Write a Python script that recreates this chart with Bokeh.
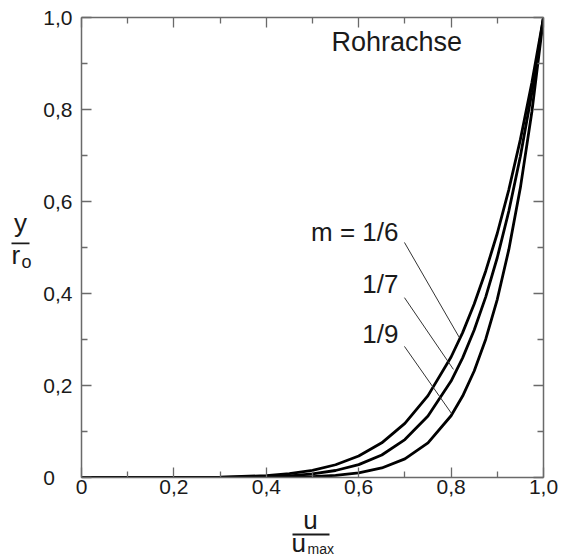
from bokeh.plotting import figure
from bokeh.models import Range1d, LinearAxis, FixedTicker, CustomJSTickFormatter, Label
from bokeh.layouts import row, column
from bokeh.core.properties import value
from bokeh.embed import file_html
from bokeh.resources import INLINE

# ---- data ----
u_ratio = [0, 0.1, 0.2, 0.3, 0.4, 0.45, 0.5, 0.55, 0.6, 0.65, 0.7, 0.75, 0.8,
           0.825, 0.85, 0.875, 0.9, 0.925, 0.95, 0.975, 1.0]
y_m6 = [0, 0.0, 0.0001, 0.0007, 0.0041, 0.0083, 0.0156, 0.0277, 0.0467, 0.0754,
        0.1176, 0.178, 0.262, 0.315, 0.377, 0.449, 0.531, 0.626, 0.735, 0.859, 1.0]
y_m7 = [0, 0.0, 0.0, 0.0002, 0.0016, 0.0037, 0.0078, 0.0152, 0.028, 0.049,
        0.0824, 0.1335, 0.2097, 0.2601, 0.3206, 0.3927, 0.4783, 0.5794, 0.6983, 0.8376, 1.0]
y_m9 = [0, 0.0, 0.0, 0.0, 0.0003, 0.0008, 0.002, 0.0046, 0.0101, 0.0207,
        0.0404, 0.0751, 0.1342, 0.177, 0.2316, 0.3007, 0.3874, 0.4958, 0.6302, 0.7962, 1.0]

curve_labels = ["m = 1/6", "1/7", "1/9"]
label_x = [0.686, 0.686, 0.686]
label_y = [0.533, 0.421, 0.313]
leader_x0 = [0.699, 0.699, 0.699]
leader_y0 = [0.511, 0.391, 0.285]
leader_x1 = [0.818, 0.805, 0.801]
leader_y1 = [0.304, 0.235, 0.139]

major_ticks = [0, 0.2, 0.4, 0.6, 0.8, 1.0]
minor_ticks = [0.1, 0.3, 0.5, 0.7, 0.9]

# axis title pieces (fraction-style labels)
ylab_text = ["y", "r", "o"]
ylab_x = [20, 11, 21]
ylab_y = [225, 260, 267]
ylab_size = ["26px", "26px", "18px"]
ylab_align = ["center", "left", "left"]

xlab_text = ["u", "u", "max"]
xlab_x = [310, 291, 307]
xlab_y = [519, 542, 548]
xlab_size = ["26px", "26px", "14px"]
xlab_align = ["center", "left", "left"]

FONT = "Liberation Sans"
AXC = "#6a6a6a"
TXT = "#1a1a1a"

LEFT_W = 34
MAIN_H = 503
TOTAL_W = 562
TOTAL_H = 558

p = figure(frame_width=462, frame_height=460, output_backend="svg",
           toolbar_location=None, x_range=Range1d(0, 1), y_range=Range1d(0, 1),
           min_border_left=81 - LEFT_W, min_border_right=19, min_border_top=17,
           min_border_bottom=MAIN_H - 477, x_axis_location=None, y_axis_location=None)
p.grid.visible = False
p.outline_line_color = None
p.background_fill_color = "white"
p.border_fill_color = "white"

fmt_x = CustomJSTickFormatter(code="""
    if (Math.abs(tick) < 1e-9) { return "0"; }
    return tick.toFixed(1).replace(".", ",");
""")
fmt_y = CustomJSTickFormatter(code="""
    if (Math.abs(tick) < 1e-9) { return "0\\u00a0\\u00a0\\u00a0"; }
    return tick.toFixed(1).replace(".", ",");
""")
blank = CustomJSTickFormatter(code="return '';")


def style(ax, labels=True):
    ax.axis_line_color = AXC
    ax.axis_line_width = 1.5
    ax.major_tick_line_color = AXC
    ax.minor_tick_line_color = AXC
    ax.major_tick_line_width = 1.3
    ax.minor_tick_line_width = 1.3
    ax.major_tick_in = 10
    ax.major_tick_out = 0
    ax.minor_tick_in = 6
    ax.minor_tick_out = 0
    ax.major_label_text_font = FONT
    ax.major_label_text_font_size = "21px"
    ax.major_label_text_color = TXT
    if not labels:
        ax.major_label_standoff = 0


xb = LinearAxis(ticker=FixedTicker(ticks=major_ticks, minor_ticks=minor_ticks), formatter=fmt_x)
style(xb)
xb.major_label_standoff = 2
p.add_layout(xb, "below")

yl = LinearAxis(ticker=FixedTicker(ticks=major_ticks, minor_ticks=minor_ticks), formatter=fmt_y)
style(yl)
yl.major_label_standoff = 9
p.add_layout(yl, "left")

xt = LinearAxis(ticker=FixedTicker(ticks=major_ticks, minor_ticks=minor_ticks), formatter=blank)
style(xt, False)
p.add_layout(xt, "above")

yr = LinearAxis(ticker=FixedTicker(ticks=major_ticks, minor_ticks=minor_ticks), formatter=blank)
style(yr, False)
p.add_layout(yr, "right")

# curves
for ys in (y_m6, y_m7, y_m9):
    p.line(u_ratio, ys, line_color="black", line_width=2.8)

# leader lines
p.segment(x0=leader_x0, y0=leader_y0, x1=leader_x1, y1=leader_y1,
          line_color="#333333", line_width=1)

for t, lx, ly in zip(curve_labels, label_x, label_y):
    p.add_layout(Label(x=lx, y=ly, text=t, text_align="right", text_baseline="alphabetic",
                       text_font=FONT, text_font_size="26px", text_color=TXT))

p.add_layout(Label(x=0.541, y=0.946, text="Rohrachse", text_align="left",
                   text_baseline="alphabetic", text_font=FONT, text_font_size="27px",
                   text_color=TXT))


def label_fig(w, h, y0, y1):
    f = figure(width=w, height=h, output_backend="svg", toolbar_location=None,
               x_range=Range1d(0, w), y_range=Range1d(y1, y0), min_border=0,
               x_axis_location=None, y_axis_location=None)
    f.grid.visible = False
    f.outline_line_color = None
    f.background_fill_color = "white"
    f.border_fill_color = "white"
    return f


# y axis title  y / r_o   (page pixel coordinates)
fy = label_fig(LEFT_W, MAIN_H, 0, MAIN_H)
for t, x, y, s, a in zip(ylab_text, ylab_x, ylab_y, ylab_size, ylab_align):
    fy.text(x=[x], y=[y], text=[t], text_font=value(FONT), text_font_size=value(s),
            text_align=a, text_baseline="alphabetic", text_color=TXT)
fy.quad(left=[11], right=[29], top=[246], bottom=[248], fill_color=TXT, line_color=None)

# x axis title  u / u_max
fx = label_fig(TOTAL_W, TOTAL_H - MAIN_H, MAIN_H, TOTAL_H)
for t, x, y, s, a in zip(xlab_text, xlab_x, xlab_y, xlab_size, xlab_align):
    fx.text(x=[x], y=[y], text=[t], text_font=value(FONT), text_font_size=value(s),
            text_align=a, text_baseline="alphabetic", text_color=TXT)
fx.quad(left=[292], right=[329], top=[533], bottom=[535], fill_color=TXT, line_color=None)

layout = column(row(fy, p, spacing=0), fx, spacing=0)

open("out.html", "w").write(file_html(layout, INLINE))
